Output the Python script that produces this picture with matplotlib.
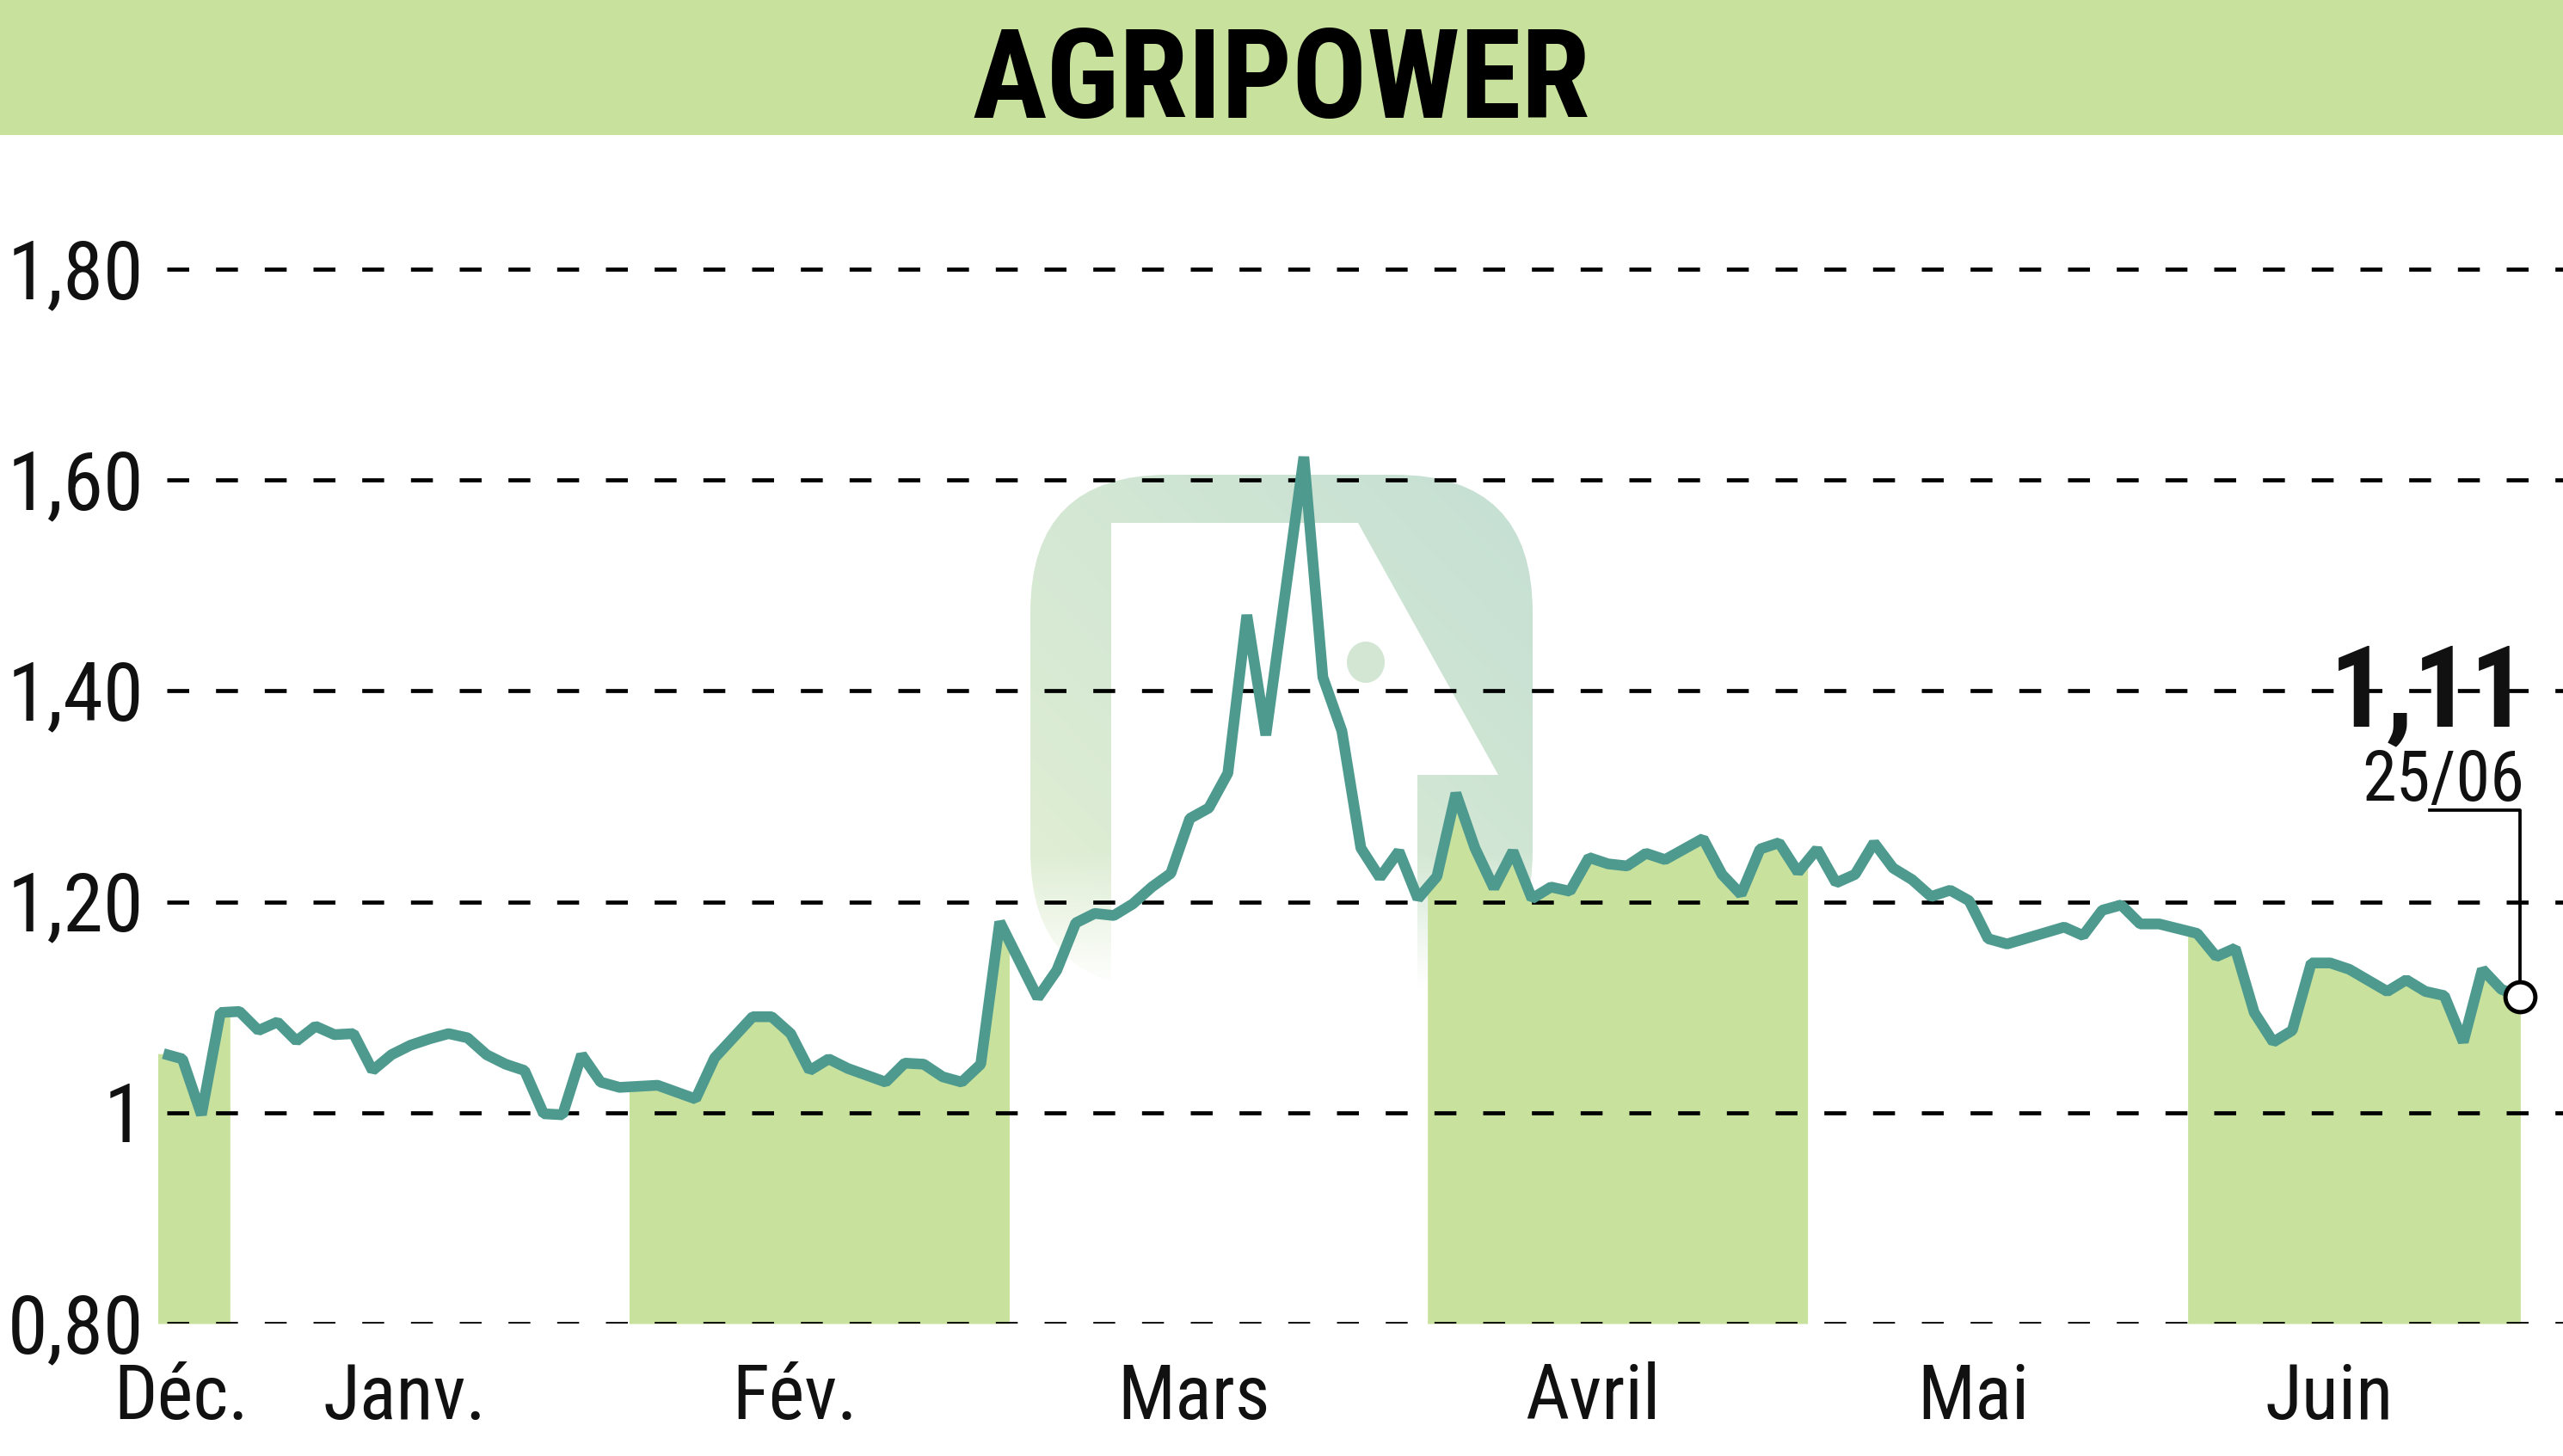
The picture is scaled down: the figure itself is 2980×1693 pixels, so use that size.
import numpy as np
import matplotlib
matplotlib.use("Agg")
import matplotlib.pyplot as plt
from matplotlib import font_manager
from matplotlib.font_manager import FontProperties
from matplotlib.patches import Rectangle, FancyBboxPatch, Polygon, Ellipse
from matplotlib.lines import Line2D
import matplotlib.transforms as mtrans

# ---------------- data ----------------
title = "AGRIPOWER"
day_index = [0, 1, 2, 3, 4, 5, 6, 7, 8, 9, 10, 11, 12, 13, 14, 15, 16, 17, 18, 19,
             20, 21, 22, 23, 24, 26, 28, 29, 31, 32, 33, 34, 35, 36, 38, 39, 40, 41,
             42, 43, 44, 46, 47, 48, 49, 50, 51, 52, 53, 54, 55, 56, 57, 58, 60, 61,
             62, 63, 64, 65, 66, 67, 68, 69, 70, 71, 72, 73, 74, 75, 76, 77, 78, 79,
             81, 82, 83, 84, 85, 86, 87, 88, 89, 90, 91, 92, 93, 94, 95, 96, 97, 100,
             101, 102, 103, 104, 105, 107, 108, 109, 110, 111, 112, 113, 114, 115,
             117, 118, 119, 120, 121, 122, 123, 124]
price = [1.056, 1.051, 0.998, 1.095, 1.096, 1.078, 1.086, 1.068, 1.082, 1.074,
         1.075, 1.040, 1.055, 1.064, 1.070, 1.075, 1.071, 1.055, 1.046, 1.040,
         0.999, 0.998, 1.055, 1.029, 1.024, 1.026, 1.013, 1.052, 1.091, 1.091,
         1.075, 1.040, 1.051, 1.042, 1.029, 1.047, 1.046, 1.034, 1.029, 1.046,
         1.181, 1.109, 1.135, 1.180, 1.189, 1.187, 1.198, 1.214, 1.227, 1.279,
         1.289, 1.322, 1.472, 1.358, 1.622, 1.413, 1.362, 1.251, 1.223, 1.248,
         1.203, 1.224, 1.303, 1.251, 1.213, 1.248, 1.203, 1.214, 1.210, 1.242,
         1.236, 1.234, 1.246, 1.240, 1.260, 1.226, 1.207, 1.250, 1.256, 1.228,
         1.250, 1.218, 1.226, 1.256, 1.232, 1.221, 1.205, 1.211, 1.201, 1.165,
         1.160, 1.176, 1.168, 1.192, 1.197, 1.179, 1.179, 1.170, 1.148, 1.156,
         1.095, 1.067, 1.078, 1.142, 1.142, 1.136, 1.115, 1.126, 1.115, 1.111,
         1.067, 1.136, 1.117, 1.110]
month_labels = ["Déc.", "Janv.", "Fév.", "Mars", "Avril", "Mai", "Juin"]
month_start = [0, 4, 25, 45, 67, 87, 107]
shaded_months = [0, 2, 4, 6]
y_ticks = [0.80, 1.00, 1.20, 1.40, 1.60, 1.80]
y_tick_labels = ["0,80", "1", "1,20", "1,40", "1,60", "1,80"]
last_value_label = "1,11"
last_date_label = "25/06"

# ---------------- style ----------------
GREEN = "#c8e29e"
LINE = "#4e9a8f"
W, H, DPI = 2980, 1693, 100


def _weight(w):
    if isinstance(w, str):
        return font_manager.weight_dict.get(w, 400)
    return int(w)


def pick_font(bold):
    prefs = ["Liberation Sans Narrow", "Roboto Condensed", "Open Sans Condensed",
             "Noto Sans", "Open Sans", "Roboto", "DejaVu Sans"]
    best = None
    for f in font_manager.fontManager.ttflist:
        st = f.stretch if isinstance(f.stretch, str) else "normal"
        narrow = ("Narrow" in f.name or "Condensed" in f.name
                  or st in ("condensed", "extra-condensed", "semi-condensed", "ultra-condensed"))
        if not narrow or f.style != "normal":
            continue
        fam_rank = prefs.index(f.name) if f.name in prefs else len(prefs)
        w = _weight(f.weight)
        wscore = abs(w - (700 if bold else 400))
        key = (fam_rank, wscore)
        if best is None or key < best[0]:
            best = (key, f.fname)
    if best is not None:
        return FontProperties(fname=best[1])
    return FontProperties(family="DejaVu Sans", stretch="condensed",
                          weight="bold" if bold else "normal")


FP_REG = pick_font(False)
FP_BOLD = pick_font(True)


def fp(base, size):
    p = base.copy()
    p.set_size(size)
    return p


fig = plt.figure(figsize=(W / DPI, H / DPI), dpi=DPI)
fig.patch.set_facecolor("white")

# background layer in pixel coordinates (header + watermark logo)
bg = fig.add_axes([0, 0, 1, 1], zorder=0)
bg.set_xlim(0, W)
bg.set_ylim(H, 0)
bg.axis("off")
bg.add_patch(Rectangle((0, 0), W, 157, color=GREEN, lw=0))
bg.text(W / 2, 137, title, ha="center", va="baseline", color="black",
        fontproperties=fp(FP_BOLD, 104))

# watermark logo
lx0, lx1, ly0, ly1 = 1198, 1782, 552, 1150
gh, gw = 200, 200
u = np.linspace(0, 1, gw)[None, :].repeat(gh, 0)
v = np.linspace(0, 1, gh)[:, None].repeat(gw, 1)
t = (u + (1 - v)) / 2
c1 = np.array([0.89, 0.94, 0.83])
c2 = np.array([0.77, 0.875, 0.83])
rgba = np.zeros((gh, gw, 4))
for k in range(3):
    rgba[..., k] = c1[k] * (1 - t) + c2[k] * t
yy = ly0 + v * (ly1 - ly0)
rgba[..., 3] = np.clip((ly1 - yy) / 160.0, 0, 1)
im = bg.imshow(rgba, extent=(lx0, lx1, ly1, ly0), origin="upper",
               aspect="auto", interpolation="bilinear", zorder=1)
clip = FancyBboxPatch((lx0, ly0), lx1 - lx0, ly1 - ly0,
                      boxstyle="round,pad=0,rounding_size=160",
                      transform=bg.transData, fill=False, lw=0)
bg.add_patch(clip)
im.set_clip_path(clip)
bg.add_patch(Polygon([(1292, 608), (1579, 608), (1742, 901), (1648, 901),
                      (1648, 1170), (1292, 1170)], closed=True,
                     color="white", lw=0, zorder=2))
bg.add_patch(Ellipse((1588, 770), 44, 48, color="#d3e6d3", lw=0, zorder=3))
bg.set_xlim(0, W)
bg.set_ylim(H, 0)

# main axes
ax_left, ax_right = 184, W
ax_top, ax_bottom = 180, 1539
ax = fig.add_axes([ax_left / W, (H - ax_bottom) / H,
                   (ax_right - ax_left) / W, (ax_bottom - ax_top) / H], zorder=1)
ax.patch.set_alpha(0)
for s in ax.spines.values():
    s.set_visible(False)
px_per_day = 22.1
x_first_px = 190
ax.set_xlim((ax_left - x_first_px) / px_per_day, (ax_right - x_first_px) / px_per_day)
px_per_unit = 1226.0
ax.set_ylim(0.80, 0.80 + (ax_bottom - ax_top) / px_per_unit)
ax.set_xticks([])
ax.set_yticks([])

# shaded months
last_idx = day_index[-1]
edges = [m - 0.5 for m in month_start] + [last_idx]
for m in shaded_months:
    s, e = edges[m], edges[m + 1]
    xs = [s] + [d for d in day_index if s < d < e] + [e]
    ys = np.interp(xs, day_index, price)
    ax.fill_between(xs, 0.80, ys, color=GREEN, lw=0, zorder=1)

# dashed gridlines
for yv in y_ticks:
    ax.axhline(yv, xmin=10 / (ax_right - ax_left), xmax=1, color="black",
               lw=3.4, linestyle=(0, (5.4, 6.6)), zorder=2)

# price line
ax.plot(day_index, price, color=LINE, lw=9.0, solid_joinstyle="bevel",
        solid_capstyle="butt", zorder=3)

# end marker
ax.plot([day_index[-1]], [price[-1]], "o", ms=25, mfc="white", mec="black",
        mew=3.6, zorder=5)

# leader line and annotation (pixel offsets from last point)
px, py = ax.transData.transform((day_index[-1], price[-1]))
lead = Line2D([px - 105, px, px], [py + 217, py + 217, py + 17],
              color="black", lw=2.7, transform=None, zorder=4)
fig.add_artist(lead)
fig.text((px + 8) / W, (py + 315) / H, last_value_label, ha="right", va="baseline",
         fontproperties=fp(FP_BOLD, 94), color="#111111")
fig.text((px + 5) / W, (py + 228) / H, last_date_label, ha="right", va="baseline",
         fontproperties=fp(FP_REG, 58), color="#111111")

# y tick labels
ylab_tr = mtrans.blended_transform_factory(ax.transAxes, ax.transData)
off = mtrans.ScaledTranslation(0, -34 / DPI, fig.dpi_scale_trans)
for yv, lab in zip(y_ticks, y_tick_labels):
    ax.text((167 - ax_left) / (ax_right - ax_left), yv, lab, ha="right",
            va="baseline", transform=ylab_tr + off,
            fontproperties=fp(FP_REG, 68), color="#111111", clip_on=False)

# month labels
xlab_tr = mtrans.blended_transform_factory(ax.transData, ax.transAxes)
x_left_data = ax.get_xlim()[0]
for i, lab in enumerate(month_labels):
    start = max(edges[i], x_left_data)
    mid = (start + edges[i + 1]) / 2 - 1.3
    if i == 0:
        mid += 0.6
    ax.text(mid, -(1650 - ax_bottom) / (ax_bottom - ax_top), lab, ha="center",
            va="baseline", transform=xlab_tr, fontproperties=fp(FP_REG, 64),
            color="#111111", clip_on=False)

fig.savefig("out.png", dpi=DPI, facecolor="white")
